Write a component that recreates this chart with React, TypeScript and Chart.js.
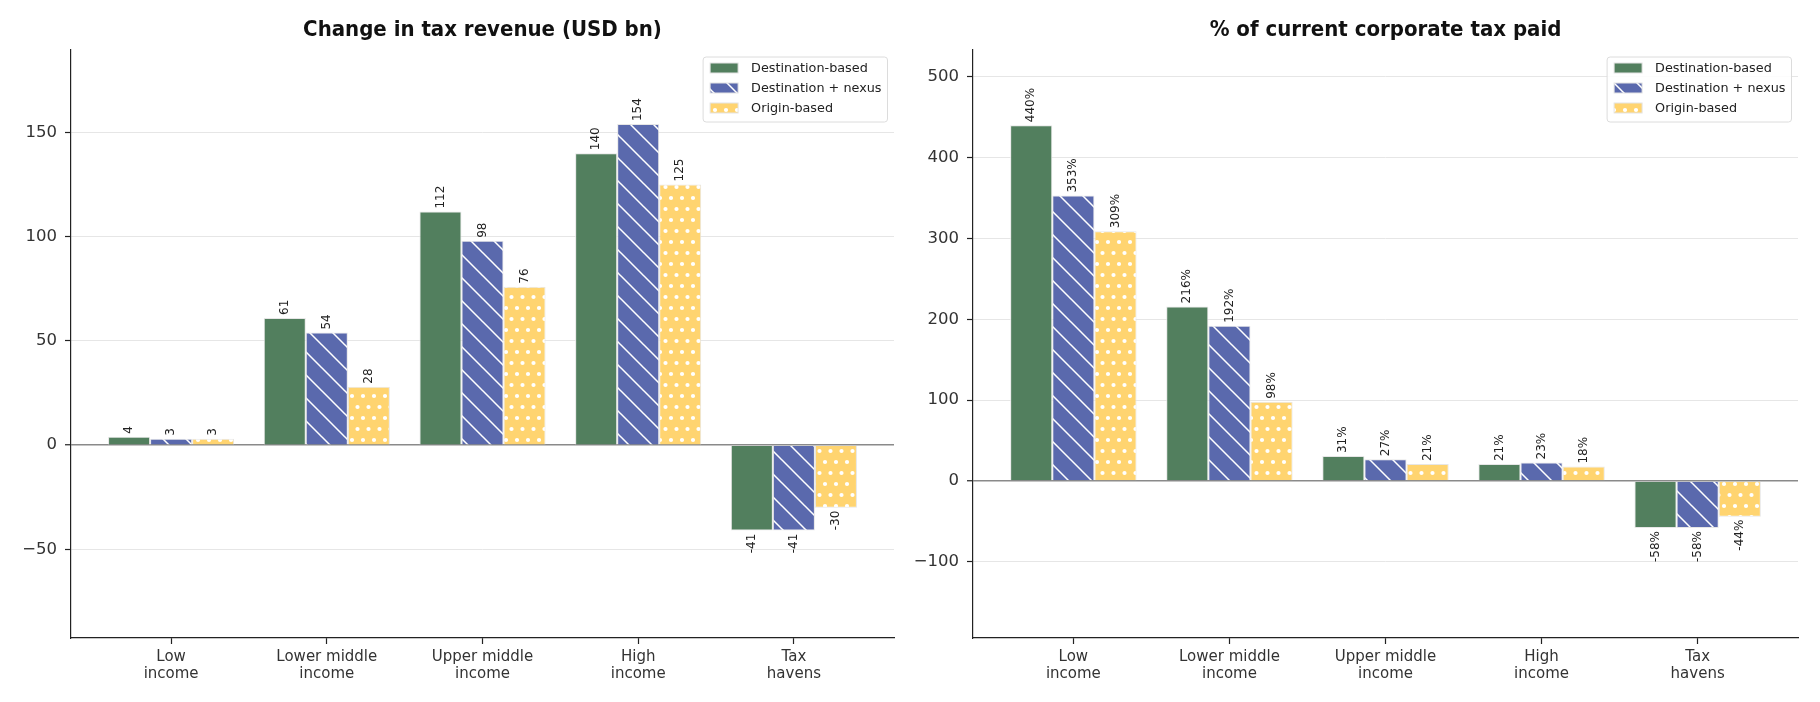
import React, { useEffect, useRef } from "react";
import { Chart, registerables } from "chart.js";

Chart.register(...registerables);

// ---------------- data ----------------
const categories: string[][] = [
  ["Low", "income"],
  ["Lower middle", "income"],
  ["Upper middle", "income"],
  ["High", "income"],
  ["Tax", "havens"],
];
const seriesNames = ["Destination-based", "Destination + nexus", "Origin-based"];

const revenueDestination = [4, 61, 112, 140, -41];
const revenueNexus = [3, 54, 98, 154, -41];
const revenueOrigin = [3, 28, 76, 125, -30];

const shareDestination = [440, 216, 31, 21, -58];
const shareNexus = [353, 192, 27, 23, -58];
const shareOrigin = [309, 98, 21, 18, -44];

const revenueTicks = [-50, 0, 50, 100, 150];
const shareTicks = [-100, 0, 100, 200, 300, 400, 500];

const revenueTitle = "Change in tax revenue (USD bn)";
const shareTitle = "% of current corporate tax paid";

// ---------------- styles ----------------
const FONT = "'DejaVu Sans', sans-serif";
const TITLE_FONT = "'DejaVu Sans Condensed', 'DejaVu Sans', sans-serif";
const GREEN = "#527f5e";
const BLUE = "#5a69ad";
const YELLOW = "#ffd470";

function makeHatch(): CanvasPattern | string {
  const T = 23;
  const c = document.createElement("canvas");
  c.width = T;
  c.height = T;
  const g = c.getContext("2d");
  if (!g) return BLUE;
  g.fillStyle = BLUE;
  g.fillRect(0, 0, T, T);
  g.strokeStyle = "#ffffff";
  g.lineWidth = 1.5;
  g.beginPath();
  g.moveTo(-2, -2);
  g.lineTo(T + 2, T + 2);
  g.moveTo(-T - 2, -2);
  g.lineTo(2, T + 2);
  g.moveTo(T - 2, -2);
  g.lineTo(2 * T + 2, T + 2);
  g.stroke();
  return g.createPattern(c, "repeat") || BLUE;
}

function makeDots(): CanvasPattern | string {
  const d = 11;
  const c = document.createElement("canvas");
  c.width = d;
  c.height = 2 * d;
  const g = c.getContext("2d");
  if (!g) return YELLOW;
  g.fillStyle = YELLOW;
  g.fillRect(0, 0, d, 2 * d);
  g.fillStyle = "#ffffff";
  const pts = [
    [0, 0], [d, 0], [0, 2 * d], [d, 2 * d], [d / 2, d],
  ];
  for (const [x, y] of pts) {
    g.beginPath();
    g.arc(x, y, 2.1, 0, Math.PI * 2);
    g.fill();
  }
  return g.createPattern(c, "repeat") || YELLOW;
}

type Fill = CanvasPattern | string;

function legendPlugin(fills: Fill[]) {
  return {
    id: "boxLegend",
    afterDraw(chart: any) {
      const { ctx, chartArea } = chart;
      ctx.save();
      ctx.font = `12.8px ${FONT}`;
      const textW = Math.max(...seriesNames.map((n) => ctx.measureText(n).width));
      const padL = 7, swW = 28, swH = 10, gap = 13, padR = 6;
      const boxW = padL + swW + gap + textW + padR;
      const boxH = 65;
      const x0 = chartArea.right - 6.5 - boxW;
      const y0 = chartArea.top + 7;
      ctx.beginPath();
      ctx.roundRect(x0, y0, boxW, boxH, 3);
      ctx.fillStyle = "rgba(255,255,255,0.85)";
      ctx.fill();
      ctx.strokeStyle = "#dcdcdc";
      ctx.lineWidth = 1;
      ctx.stroke();
      seriesNames.forEach((name, i) => {
        const cy = y0 + 11 + i * 20;
        ctx.fillStyle = fills[i];
        ctx.fillRect(x0 + padL, cy - swH / 2, swW, swH);
        ctx.strokeStyle = "#e4e4e4";
        ctx.strokeRect(x0 + padL, cy - swH / 2, swW, swH);
        ctx.fillStyle = "#222";
        ctx.textAlign = "left";
        ctx.textBaseline = "middle";
        ctx.fillText(name, x0 + padL + swW + gap, cy + 1);
      });
      ctx.restore();
    },
  };
}

function valueLabelPlugin(fmt: (v: number) => string) {
  return {
    id: "valueLabels",
    afterDatasetsDraw(chart: any) {
      const ctx = chart.ctx;
      ctx.save();
      ctx.font = `12px ${FONT}`;
      ctx.fillStyle = "#222";
      chart.data.datasets.forEach((ds: any, di: number) => {
        const meta = chart.getDatasetMeta(di);
        meta.data.forEach((el: any, i: number) => {
          const v = ds.data[i].y as number;
          ctx.save();
          if (v >= 0) {
            ctx.translate(el.x, el.y - 3);
            ctx.rotate(-Math.PI / 2);
            ctx.textAlign = "left";
          } else {
            ctx.translate(el.x, el.y + 3);
            ctx.rotate(-Math.PI / 2);
            ctx.textAlign = "right";
          }
          ctx.textBaseline = "middle";
          ctx.fillText(fmt(v), 0, 0);
          ctx.restore();
        });
      });
      ctx.restore();
    },
  };
}

interface PanelProps {
  title: string;
  series: number[][];
  ticks: number[];
  yMin: number;
  yMax: number;
  yWidth: number;
  padRight: number;
  fmt: (v: number) => string;
}

function Panel(props: PanelProps) {
  const ref = useRef<HTMLCanvasElement | null>(null);
  useEffect(() => {
    if (!ref.current) return;
    const fills: Fill[] = [GREEN, makeHatch(), makeDots()];
    const datasets = props.series.map((vals, si) => ({
      label: seriesNames[si],
      data: vals.map((v, i) => ({ x: i, y: v })),
      backgroundColor: fills[si] as any,
      borderColor: "#e6e6e6",
      borderWidth: 1,
      categoryPercentage: 0.81,
      barPercentage: 1.0,
    }));
    const chart = new Chart(ref.current, {
      type: "bar",
      data: { datasets },
      options: {
        animation: false,
        responsive: false,
        layout: { padding: { left: 0, right: props.padRight, top: 0, bottom: 0 } },
        plugins: {
          legend: { display: false },
          tooltip: { enabled: false },
          title: {
            display: true,
            text: props.title,
            fullSize: false,
            color: "#111",
            font: { family: TITLE_FONT, size: 22, weight: "bold", lineHeight: 1.2 },
            padding: { top: 17, bottom: 6.6 },
          },
        },
        scales: {
          x: {
            type: "linear",
            min: -0.643,
            max: 4.643,
            offset: false,
            afterBuildTicks: (axis: any) => {
              axis.ticks = categories.map((_, i) => ({ value: i }));
            },
            afterFit: (scale: any) => {
              scale.height = 64;
            },
            ticks: {
              autoSkip: false,
              maxRotation: 0,
              minRotation: 0,
              padding: 4,
              color: "#333",
              font: { family: FONT, size: 15, lineHeight: 1.15 },
              callback: (v: any) => categories[Math.round(Number(v))] as any,
            },
            grid: {
              display: true,
              offset: false,
              drawOnChartArea: false,
              drawTicks: true,
              tickLength: 6,
              tickColor: "#222",
              tickWidth: 1.2,
            },
            border: { display: true, color: "#222", width: 1.2 },
          },
          y: {
            type: "linear",
            min: props.yMin,
            max: props.yMax,
            afterBuildTicks: (axis: any) => {
              axis.ticks = props.ticks.map((v) => ({ value: v }));
            },
            afterFit: (scale: any) => {
              scale.width = props.yWidth;
            },
            ticks: {
              padding: 8,
              color: "#333",
              font: { family: FONT, size: 16.5 },
              callback: (v: any) => (Number(v) < 0 ? "\u2212" + Math.abs(Number(v)) : String(v)),
            },
            grid: {
              color: (c: any) => (c.tick && c.tick.value === 0 ? "#8a8a8a" : "#e6e6e6"),
              lineWidth: (c: any) => (c.tick && c.tick.value === 0 ? 1.5 : 1),
              drawTicks: true,
              tickLength: 6,
              tickColor: "#222",
              tickWidth: 1.2,
            },
            border: { display: true, color: "#222", width: 1.2 },
          },
        },
      } as any,
      plugins: [valueLabelPlugin(props.fmt), legendPlugin(fills)],
    });
    return () => chart.destroy();
  }, []);
  return <canvas ref={ref} width={910} height={702} style={{ width: 910, height: 702, display: "block" }} />;
}

export default function App() {
  useEffect(() => {
    document.body.style.margin = "0";
  }, []);
  return (
    <div style={{ position: "absolute", left: 0, top: 0, width: 1820, height: 702, display: "flex", background: "#fff" }}>
      <Panel
        title={revenueTitle}
        series={[revenueDestination, revenueNexus, revenueOrigin]}
        ticks={revenueTicks}
        yMin={-92.5}
        yMax={189.5}
        yWidth={71}
        padRight={16}
        fmt={(v) => String(v)}
      />
      <Panel
        title={shareTitle}
        series={[shareDestination, shareNexus, shareOrigin]}
        ticks={shareTicks}
        yMin={-194}
        yMax={533}
        yWidth={63}
        padRight={22}
        fmt={(v) => v + "%"}
      />
    </div>
  );
}
